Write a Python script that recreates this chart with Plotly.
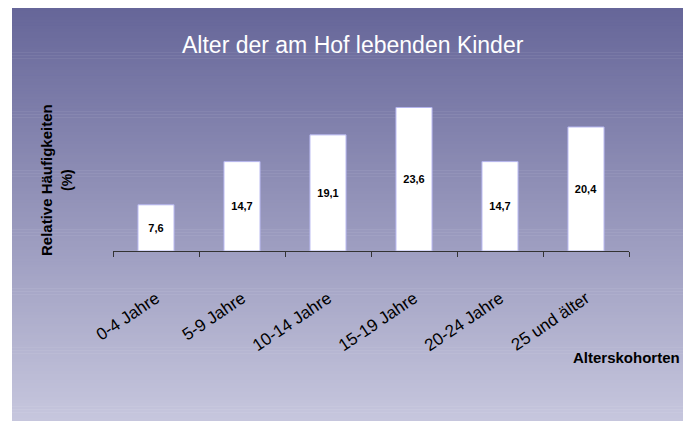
import plotly.graph_objects as go

categories = ["0-4 Jahre", "5-9 Jahre", "10-14 Jahre", "15-19 Jahre", "20-24 Jahre", "25 und älter"]
values = [7.6, 14.7, 19.1, 23.6, 14.7, 20.4]
value_labels = ["7,6", "14,7", "19,1", "23,6", "14,7", "20,4"]

# the page body has an 8px margin, so the figure is sized to fill the rest of the window
OFF = 8
W, H = 691 - OFF, 421 - OFF
ML, MR, MT, MB = 105, 62, 91, 170
PW, PH = W - ML - MR, H - MT - MB


def px2x(px):
    # px given in window coordinates
    return (px - OFF - ML) / PW


def px2y(py):
    return (H - MB - (py - OFF)) / PH


fig = go.Figure()
fig.add_trace(go.Bar(
    x=categories, y=values, text=value_labels,
    textposition="inside", insidetextanchor="middle",
    textfont=dict(family="Arial, Liberation Sans", size=11, color="black", weight="bold"),
    marker=dict(color="white", line=dict(color="#b4b4ee", width=1)),
    hoverinfo="skip",
))

# background gradient panel
shapes = []
top_c = (102, 102, 153)
bot_c = (198, 198, 221)
x0p, x1p = 12, 691
y0p, y1p = 8, 421
n = 140
for i in range(n):
    t = i / (n - 1)
    c = tuple(round(top_c[k] + (bot_c[k] - top_c[k]) * t) for k in range(3))
    ya = y0p + (y1p - y0p) * i / n
    yb = y0p + (y1p - y0p) * (i + 1) / n + 0.6
    shapes.append(dict(type="rect", xref="paper", yref="paper",
                       x0=px2x(x0p), x1=px2x(x1p), y0=px2y(ya), y1=px2y(min(yb, y1p)),
                       fillcolor="rgb(%d,%d,%d)" % c, line=dict(width=0), layer="below"))

annotations = [
    dict(text="Alter der am Hof lebenden Kinder", x=px2x(353), y=px2y(45), xref="paper", yref="paper",
         showarrow=False, xanchor="center", yanchor="middle",
         font=dict(family="Arial, Liberation Sans", size=23, color="white")),
    dict(text="Relative Häufigkeiten", x=px2x(46), y=px2y(180), xref="paper", yref="paper",
         showarrow=False, textangle=-90, xanchor="center", yanchor="middle",
         font=dict(family="Arial, Liberation Sans", size=15, color="black", weight="bold")),
    dict(text="(%)", x=px2x(67), y=px2y(180), xref="paper", yref="paper",
         showarrow=False, textangle=-90, xanchor="center", yanchor="middle",
         font=dict(family="Arial, Liberation Sans", size=14, color="black", weight="bold")),
    dict(text="Alterskohorten", x=px2x(682), y=px2y(357), xref="paper", yref="paper",
         showarrow=False, xanchor="right", yanchor="middle",
         font=dict(family="Arial, Liberation Sans", size=15, color="black", weight="bold")),
]

fig.update_layout(
    width=W, height=H,
    margin=dict(l=ML, r=MR, t=MT, b=MB, pad=0),
    paper_bgcolor="white", plot_bgcolor="rgba(0,0,0,0)",
    showlegend=False, bargap=0.58,
    shapes=shapes, annotations=annotations,
)
fig.update_xaxes(
    type="category", showline=True, linecolor="#333333", linewidth=1,
    ticks="outside", ticklen=5, tickcolor="#333333", tickson="boundaries",
    tickangle=-34, ticklabelstandoff=30,
    tickfont=dict(family="Arial, Liberation Sans", size=17, color="black"),
    showgrid=False, zeroline=False,
)
fig.update_yaxes(range=[0, 25], visible=False, showgrid=False, zeroline=False)

fig.write_html("out.html")
